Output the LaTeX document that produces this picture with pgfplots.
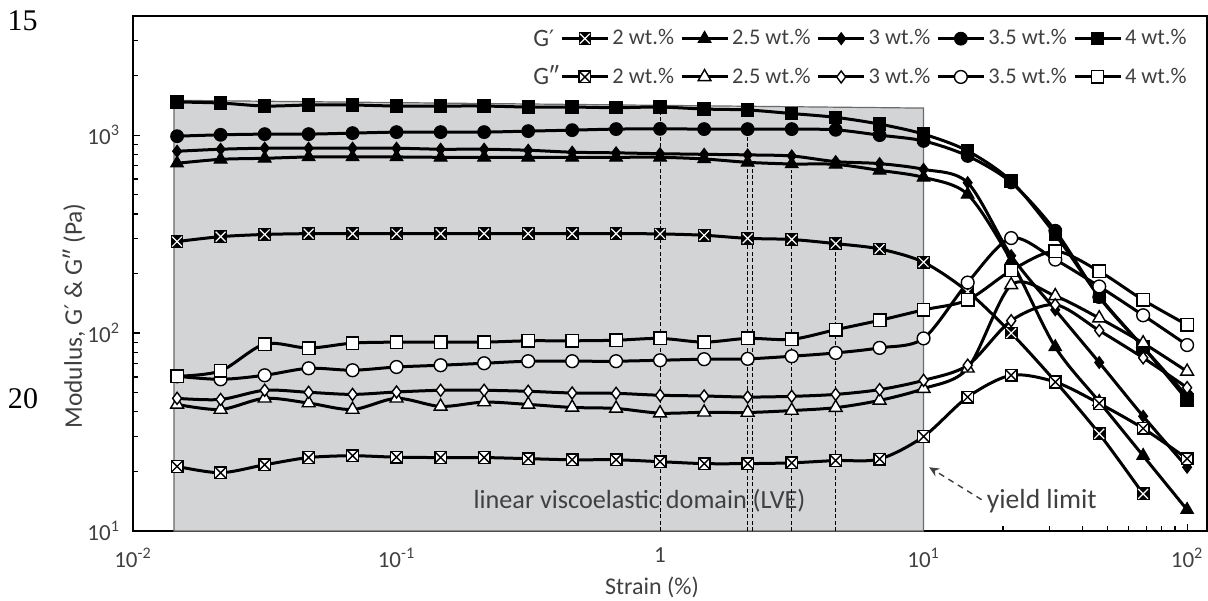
\documentclass[border=0pt]{standalone}
\usepackage{fontspec}
\setmainfont{Carlito}
\newfontfamily\linenumfont{Liberation Serif}
\newfontfamily\primefont{DejaVu Sans}
\newcommand{\prm}{{\primefont\fontsize{0.9em}{1em}\selectfont ′}}
\usepackage{pgfplots}
\pgfplotsset{compat=1.18}
\usepackage{pgfplotstable}
\usetikzlibrary{arrows.meta}

\definecolor{txt}{HTML}{404040}
\definecolor{lve}{HTML}{D3D4D6}
\definecolor{lveedge}{HTML}{6A6A6A}

% square with a diagonal cross: filled (white cross) and open (black cross)
\pgfdeclareplotmark{boxx*}{%
  \pgfpathrectangle{\pgfqpoint{-\pgfplotmarksize}{-\pgfplotmarksize}}{\pgfqpoint{2\pgfplotmarksize}{2\pgfplotmarksize}}%
  \pgfusepathqfillstroke
  \pgfscope
  \color{white}%
  \pgfpathmoveto{\pgfqpoint{-0.85\pgfplotmarksize}{-0.85\pgfplotmarksize}}%
  \pgfpathlineto{\pgfqpoint{0.85\pgfplotmarksize}{0.85\pgfplotmarksize}}%
  \pgfpathmoveto{\pgfqpoint{-0.85\pgfplotmarksize}{0.85\pgfplotmarksize}}%
  \pgfpathlineto{\pgfqpoint{0.85\pgfplotmarksize}{-0.85\pgfplotmarksize}}%
  \pgfusepathqstroke
  \endpgfscope}
\pgfdeclareplotmark{boxx}{%
  \pgfpathrectangle{\pgfqpoint{-\pgfplotmarksize}{-\pgfplotmarksize}}{\pgfqpoint{2\pgfplotmarksize}{2\pgfplotmarksize}}%
  \pgfusepathqfillstroke
  \pgfpathmoveto{\pgfqpoint{-\pgfplotmarksize}{-\pgfplotmarksize}}%
  \pgfpathlineto{\pgfqpoint{\pgfplotmarksize}{\pgfplotmarksize}}%
  \pgfpathmoveto{\pgfqpoint{-\pgfplotmarksize}{\pgfplotmarksize}}%
  \pgfpathlineto{\pgfqpoint{\pgfplotmarksize}{-\pgfplotmarksize}}%
  \pgfusepathqstroke}

% storage modulus G' (Pa) against strain (%)
\pgfplotstableread{
x      Gp2   Gp25  Gp3  Gp35  Gp4
0.0147 290   721   829  988   1471
0.0215 307   755   849  1004  1453
0.0316 315   764   859  1012  1403
0.0464 318   776   859  1012  1420
0.0681 318   776   859  1024  1420
0.1    318   776   859  1036  1403
0.147  318   773   849  1036  1403
0.215  318   773   849  1036  1403
0.316  318   773   839  1048  1387
0.464  318   773   820  1060  1387
0.681  318   773   814  1073  1376
1      317   773   806  1076  1387
1.47   312   758   800  1073  1355
2.15   301   729   795  1073  1340
3.16   297   715   785  1073  1286
4.64   283   712   735  1064  1230
6.81   266   664   718  1000  1137
10     228   612   672  935   1012
14.7   162   502   575  785   832
21.5   100   232   246  577   586
31.6   57    85    131  329   315
46.4   31    45    71   152   153
68.1   15.4  24    38   85    85
100    nan   12.8  21   48    46
}\Gp

% loss modulus G'' (Pa) against strain (%)
\pgfplotstableread{
x      Gpp2  Gpp25 Gpp3  Gpp35 Gpp4
0.0147 21.2  43.6  46.8  60.5  60.5
0.0215 19.7  41.1  46.2  58.4  64.4
0.0316 21.6  46.8  51.4  61.2  88
0.0464 23.5  44.3  50.2  66.4  84
0.0681 24.0  41.1  49.0  64.9  89
0.1    23.6  46.8  50.4  67.4  90
0.147  23.5  42.6  51.4  68.8  90
0.215  23.5  44.8  51.4  70.4  90
0.316  23.2  43.6  50.8  72.1  91.4
0.464  22.9  42.1  49.8  72.1  91.4
0.681  22.9  41.6  49.6  72.1  92
1      22.4  39.4  48.5  72.9  94
1.47   21.9  39.8  48.1  73.8  90
2.15   21.9  39.7  47.5  74.1  94
3.16   22.1  40.6  47.9  76.4  93
4.64   22.7  42.0  49.0  79.4  104
6.81   23.1  45.7  51.8  84.2  116
10     30.0  52.4  57.7  94.0  131
14.7   47.5  66.4  68.8  180   147
21.5   61.2  175   115.5 302   207
31.6   56.6  154   139   235   259
46.4   44.1  119   103   172   205
68.1   33.0  89    75    123   147
100    23.2  64    53    87    110
}\Gpp

\begin{document}
\begin{tikzpicture}
\begin{loglogaxis}[
  at={(66.5pt,34.5pt)}, anchor=south west,
  scale only axis, width=537pt, height=257.5pt,
  xmin=0.01, xmax=119, ymin=10, ymax=4000,
  axis line style={line width=0.75pt},
  tick align=inside, xtick pos=left, ytick pos=left,
  major tick length=3.5pt, minor tick length=2.5pt,
  every tick/.style={black, line width=0.6pt},
  xtick={0.01,0.1,1,10,100},
  minor xtick={0.02,0.03,0.04,0.05,0.06,0.07,0.08,0.09,0.2,0.3,0.4,0.5,0.6,0.7,0.8,0.9,2,3,4,5,6,7,8,9,20,30,40,50,60,70,80,90},
  xticklabels={10\textsuperscript{-2},10\textsuperscript{-1},1,10\textsuperscript{1},10\textsuperscript{2}},
  ytick={10,100,1000},
  minor ytick={20,30,40,50,60,70,80,90,200,300,400,500,600,700,800,900,2000,3000},
  yticklabels={10\textsuperscript{1},10\textsuperscript{2},10\textsuperscript{3}},
  ticklabel style={font=\fontsize{11.5}{13}\selectfont, text=txt},
  xticklabel style={yshift=-5pt},
  yticklabel style={xshift=-3pt},
  legend columns=5,
  legend style={draw=none, fill=none, at={(axis description cs:0.987,0.99)}, anchor=north east,
    font=\fontsize{11.2}{13}\selectfont, text=txt, row sep=6pt,
    nodes={inner xsep=0pt},
    /tikz/every odd column/.append style={column sep=1.5pt},
    /tikz/every even column/.append style={column sep=3pt}},
  legend image code/.code={%
    \draw[mark repeat=2,mark phase=2] plot coordinates {(0pt,0pt) (11.5pt,0pt) (23pt,0pt)};},
  every axis plot/.append style={line width=1.5pt},
]
% linear viscoelastic domain
\addplot[forget plot, fill=lve, draw=lveedge, line width=0.6pt] coordinates {(0.0143,10) (0.0143,1500) (10,1370) (10,10)} -- cycle;

\node[text=txt, font=\fontsize{13.1}{15}\selectfont] at (axis cs:0.836,14.2) {linear viscoelastic domain (LVE)};

% G'
\addplot[forget plot, black, smooth, mark=boxx*, mark size=2.9pt, mark options={solid, fill=black, line width=0.6pt}] table[x=x,y=Gp2]{\Gp};
\addplot[forget plot, black, smooth, mark=triangle*, mark size=3.7pt, mark options={solid, fill=black, line width=0.5pt}] table[x=x,y=Gp25]{\Gp};
\addplot[forget plot, black, smooth, mark=diamond*, mark size=3pt, mark options={solid, fill=black, line width=0.5pt}] table[x=x,y=Gp3]{\Gp};
\addplot[forget plot, black, smooth, mark=*, mark size=3.2pt, mark options={solid, fill=black, line width=0.5pt}] table[x=x,y=Gp35]{\Gp};
\addplot[forget plot, black, smooth, mark=square*, mark size=3.1pt, mark options={solid, fill=black, line width=0.5pt}] table[x=x,y=Gp4]{\Gp};

% G''
\addplot[forget plot, black, smooth, mark=boxx, mark size=2.9pt, mark options={solid, fill=white, line width=0.7pt}] table[x=x,y=Gpp2]{\Gpp};
\addplot[forget plot, black, smooth, mark=triangle*, mark size=3.7pt, mark options={solid, fill=white, line width=0.7pt}] table[x=x,y=Gpp25]{\Gpp};
\addplot[forget plot, black, smooth, mark=diamond*, mark size=3pt, mark options={solid, fill=white, line width=0.7pt}] table[x=x,y=Gpp3]{\Gpp};
\addplot[forget plot, black, smooth, mark=*, mark size=3.2pt, mark options={solid, fill=white, line width=0.7pt}] table[x=x,y=Gpp35]{\Gpp};
\addplot[forget plot, black, smooth, mark=square*, mark size=3.1pt, mark options={solid, fill=white, line width=0.7pt}] table[x=x,y=Gpp4]{\Gpp};

% end of the linear region for each concentration
\addplot[forget plot, black, line width=0.5pt, dash pattern=on 2pt off 1.2pt] coordinates {(1,10) (1,1290)};
\addplot[forget plot, black, line width=0.5pt, dash pattern=on 2pt off 1.2pt] coordinates {(2.15,10) (2.15,1000)};
\addplot[forget plot, black, line width=0.5pt, dash pattern=on 2pt off 1.2pt] coordinates {(2.25,10) (2.25,700)};
\addplot[forget plot, black, line width=0.5pt, dash pattern=on 2pt off 1.2pt] coordinates {(3.16,10) (3.16,665)};
\addplot[forget plot, black, line width=0.5pt, dash pattern=on 2pt off 1.2pt] coordinates {(4.64,10) (4.64,265)};

% yield limit
\node[text=txt, font=\fontsize{13.8}{15}\selectfont] at (axis cs:28.1,14.2) {yield limit};
\draw[txt, line width=0.7pt, dash pattern=on 3pt off 2.5pt, -{Stealth[length=5pt,width=4.5pt]}] (axis cs:16.6,14.4) -- (axis cs:10.5,21);

% legend: G' row then G'' row
\addlegendimage{black, mark=boxx*, mark size=2.9pt, mark options={solid, fill=black, line width=0.6pt}}\addlegendentry{2 wt.\%}
\addlegendimage{black, mark=triangle*, mark size=3.7pt, mark options={solid, fill=black, line width=0.5pt}}\addlegendentry{2.5 wt.\%}
\addlegendimage{black, mark=diamond*, mark size=3pt, mark options={solid, fill=black, line width=0.5pt}}\addlegendentry{3 wt.\%}
\addlegendimage{black, mark=*, mark size=3.2pt, mark options={solid, fill=black, line width=0.5pt}}\addlegendentry{3.5 wt.\%}
\addlegendimage{black, mark=square*, mark size=3.1pt, mark options={solid, fill=black, line width=0.5pt}}\addlegendentry{4 wt.\%}
\addlegendimage{black, mark=boxx, mark size=2.9pt, mark options={solid, fill=white, line width=0.7pt}}\addlegendentry{2 wt.\%}
\addlegendimage{black, mark=triangle*, mark size=3.7pt, mark options={solid, fill=white, line width=0.7pt}}\addlegendentry{2.5 wt.\%}
\addlegendimage{black, mark=diamond*, mark size=3pt, mark options={solid, fill=white, line width=0.7pt}}\addlegendentry{3 wt.\%}
\addlegendimage{black, mark=*, mark size=3.2pt, mark options={solid, fill=white, line width=0.7pt}}\addlegendentry{3.5 wt.\%}
\addlegendimage{black, mark=square*, mark size=3.1pt, mark options={solid, fill=white, line width=0.7pt}}\addlegendentry{4 wt.\%}
\end{loglogaxis}

% row labels of the legend
\node[text=txt, font=\fontsize{12.5}{14}\selectfont, anchor=west, inner sep=0pt] at (266.5pt,281pt) {G\prm};
\node[text=txt, font=\fontsize{12.5}{14}\selectfont, anchor=west, inner sep=0pt] at (266.5pt,262.5pt) {G″};

% axis titles and manuscript line numbers
\node[text=txt, font=\fontsize{12.7}{14}\selectfont, rotate=90] at (37pt,142pt) {Modulus, G\prm{} \& G″ (Pa)};
\node[text=txt, font=\fontsize{12}{14}\selectfont] at (326pt,6.5pt) {Strain (\%)};
\node[font=\linenumfont\fontsize{15}{17}\selectfont] at (11.25pt,289.5pt) {15};
\node[font=\linenumfont\fontsize{15}{17}\selectfont] at (11.5pt,100.5pt) {20};

\pgfresetboundingbox
\path[use as bounding box] (0pt,0pt) rectangle (604pt,300pt);
\end{tikzpicture}
\end{document}
